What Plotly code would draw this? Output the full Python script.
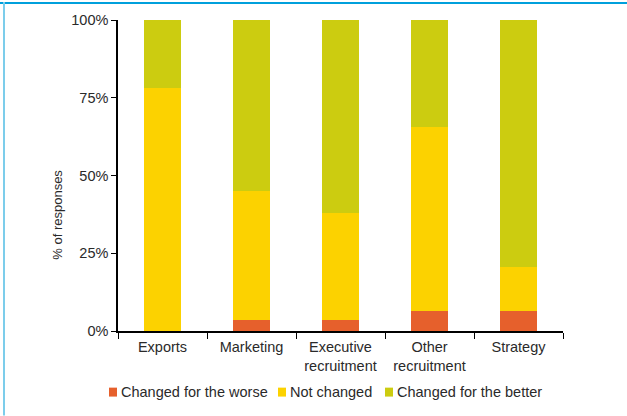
import plotly.graph_objects as go

# Survey areas and share of responses (%) per outcome
categories = ["Exports", "Marketing", "Executive<br>recruitment", "Other<br>recruitment", "Strategy"]
series_names = ["Changed for the worse", "Not changed", "Changed for the better"]
worse = [0, 3.5, 3.5, 6.5, 6.5]
not_changed = [78, 41.5, 34.5, 59, 14]
better = [22, 55, 62, 34.5, 79.5]
series_values = [worse, not_changed, better]
series_colors = ["#E6602C", "#FCD200", "#CCCC10"]
y_tick_values = [0, 25, 50, 75, 100]
y_tick_labels = ["0%", "25%", "50%", "75%", "100%"]

W, H = 627, 416
ML, MR, MT, MB = 118, 64, 18, 85
PW, PH = W - ML - MR, H - MT - MB

FONT = "Liberation Sans, Arial, Helvetica, sans-serif"
FS = 14.5
TXT = "#2a2a2a"


def px_x(x):
    return (x - ML) / PW


def px_y(y):
    return (H - MB - y) / PH


fig = go.Figure()
for name, vals, col in zip(series_names, series_values, series_colors):
    fig.add_trace(go.Bar(
        x=categories, y=vals, name=name, marker=dict(color=col, line=dict(width=0)),
        width=0.405, showlegend=False,
    ))

shapes = [
    # frame lines along top and left edges
    dict(type="rect", xref="paper", yref="paper", x0=px_x(0), x1=px_x(W), y0=px_y(2), y1=px_y(0),
         fillcolor="#00A0DC", line=dict(width=0), layer="above"),
    dict(type="rect", xref="paper", yref="paper", x0=px_x(3), x1=px_x(5), y0=px_y(H), y1=px_y(0),
         fillcolor="#7CCDEB", line=dict(width=0), layer="above"),
]
annotations = []

# legend row
legend_sq_x = [109, 278, 385]
for sx, name, col in zip(legend_sq_x, series_names, series_colors):
    shapes.append(dict(type="rect", xref="paper", yref="paper",
                       x0=px_x(sx), x1=px_x(sx + 8), y0=px_y(397), y1=px_y(388),
                       fillcolor=col, line=dict(width=0)))
    annotations.append(dict(xref="paper", yref="paper", x=px_x(sx + 10), y=px_y(392.5),
                            xanchor="left", yanchor="middle", showarrow=False, text=name,
                            font=dict(family=FONT, size=FS, color=TXT)))

# rotated y-axis title
annotations.append(dict(xref="paper", yref="paper", x=px_x(58), y=px_y(214),
                        xanchor="center", yanchor="middle", showarrow=False, textangle=-90,
                        text="% of responses", font=dict(family=FONT, size=13, color=TXT)))

fig.update_layout(
    width=W, height=H,
    margin=dict(l=ML, r=MR, t=MT, b=MB, pad=0),
    barmode="stack",
    paper_bgcolor="white", plot_bgcolor="white",
    font=dict(family=FONT, size=FS, color=TXT),
    shapes=shapes, annotations=annotations,
    xaxis=dict(
        showline=True, linecolor="black", linewidth=1.5,
        ticks="outside", tickson="boundaries", ticklen=6, tickcolor="black", tickwidth=1.2,
        ticklabelstandoff=2,
        showgrid=False, tickfont=dict(family=FONT, size=FS, color=TXT),
        fixedrange=True,
    ),
    yaxis=dict(
        range=[0, 100], tickvals=y_tick_values, ticktext=y_tick_labels,
        showline=True, linecolor="black", linewidth=1.5,
        ticks="outside", ticklen=5, tickcolor="black", tickwidth=1.2,
        showgrid=False, zeroline=False, tickfont=dict(family=FONT, size=FS, color=TXT),
        fixedrange=True,
    ),
)

fig.write_html("out.html")
